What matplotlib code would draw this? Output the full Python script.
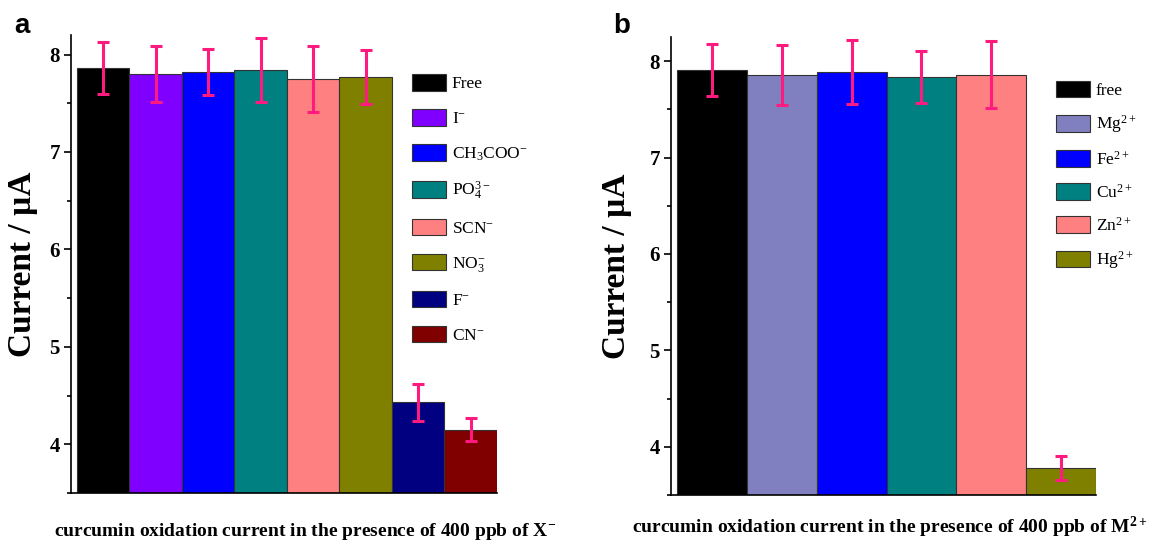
import matplotlib
matplotlib.use("Agg")
import matplotlib.pyplot as plt
from matplotlib.patches import Patch

plt.rcParams["font.family"] = ["Liberation Serif", "DejaVu Serif"]
plt.rcParams["mathtext.fontset"] = "custom"
plt.rcParams["mathtext.rm"] = "Liberation Serif"
plt.rcParams["mathtext.it"] = "Liberation Serif:italic"
plt.rcParams["mathtext.bf"] = "Liberation Serif:bold"
plt.rcParams["mathtext.default"] = "regular"

# panel a: anions
anion_labels = ["Free", "I$^{-}$", "CH$_3$COO$^{-}$", "PO$_4^{3-}$",
                "SCN$^{-}$", "NO$_3^{-}$", "F$^{-}$", "CN$^{-}$"]
anion_current = [7.86, 7.80, 7.82, 7.84, 7.75, 7.77, 4.43, 4.15]
anion_error = [0.27, 0.29, 0.24, 0.33, 0.34, 0.28, 0.19, 0.12]
anion_colors = ["#000000", "#8000FF", "#0000FF", "#008080",
                "#FF8080", "#808000", "#000080", "#800000"]

# panel b: metal cations
cation_labels = ["free", "Mg$^{2+}$", "Fe$^{2+}$", "Cu$^{2+}$", "Zn$^{2+}$", "Hg$^{2+}$"]
cation_current = [7.91, 7.86, 7.89, 7.84, 7.86, 3.78]
cation_error = [0.27, 0.31, 0.33, 0.27, 0.35, 0.12]
cation_colors = ["#000000", "#8080C0", "#0000FF", "#008080", "#FF8080", "#808000"]

ERR_COLOR = "#FF1A80"


def draw_panel(ax, labels, values, errors, colors, ylim, left_pad, xlabel,
               legend_xy, spacing, ylabel_x, xlabel_xy):
    n = len(values)
    ax.bar(range(n), values, width=1.0, color=colors, edgecolor="#333333",
           linewidth=0.8, yerr=errors,
           error_kw=dict(ecolor=ERR_COLOR, elinewidth=2.2, capsize=4, capthick=2.2))
    ax.set_xlim(-0.5 - left_pad, n - 0.5)
    ax.set_ylim(*ylim)
    for side in ("top", "right"):
        ax.spines[side].set_visible(False)
    ax.spines["left"].set_linewidth(1.2)
    ax.spines["bottom"].set_linewidth(1.2)
    ax.set_xticks([])
    ax.set_yticks([4, 5, 6, 7, 8])
    ax.set_yticks([3.5, 4.5, 5.5, 6.5, 7.5], minor=True)
    ax.tick_params(axis="y", which="major", direction="out", length=5, width=1.2,
                   pad=3, labelsize=15)
    ax.tick_params(axis="y", which="minor", direction="out", length=3, width=1.2)
    for lbl in ax.get_yticklabels():
        lbl.set_fontweight("bold")
    ax.set_ylabel("Current / µA", fontsize=24, fontweight="bold")
    ax.yaxis.set_label_coords(ylabel_x, 0.5)
    ax.set_xlabel(xlabel, fontsize=14, fontweight="bold")
    ax.xaxis.label.set_verticalalignment("baseline")
    ax.xaxis.set_label_coords(*xlabel_xy)
    handles = [Patch(facecolor=c, edgecolor="#333333", linewidth=0.8) for c in colors]
    ax.legend(handles, labels, loc="upper left", bbox_to_anchor=legend_xy,
              frameon=False, fontsize=12.5, handlelength=2.0, handleheight=1.1,
              handletextpad=0.3, labelspacing=spacing, borderpad=0, borderaxespad=0)


fig = plt.figure(figsize=(11.5, 5.42), dpi=100)
ax_a = fig.add_axes([0.0617, 0.0904, 0.3704, 0.845])
ax_b = fig.add_axes([0.5835, 0.0867, 0.3696, 0.845])

draw_panel(ax_a, anion_labels, anion_current, anion_error, anion_colors,
           (3.5, 8.2), 6 / 52.5,
           "curcumin oxidation current in the presence of 400 ppb of X$^{-}$",
           (0.80, 0.915), 0.97, -0.078, (0.55, -0.094))
draw_panel(ax_b, cation_labels, cation_current, cation_error, cation_colors,
           (3.5, 8.25), 6 / 69.8,
           "curcumin oxidation current in the presence of 400 ppb of M$^{2+}$",
           (0.905, 0.905), 0.85, -0.092, (0.515, -0.083))

fig.text(0.012, 0.94, "a", fontsize=20, fontweight="bold", family="Liberation Sans")
fig.text(0.533, 0.94, "b", fontsize=20, fontweight="bold", family="Liberation Sans")

fig.savefig("out.png", dpi=100)
